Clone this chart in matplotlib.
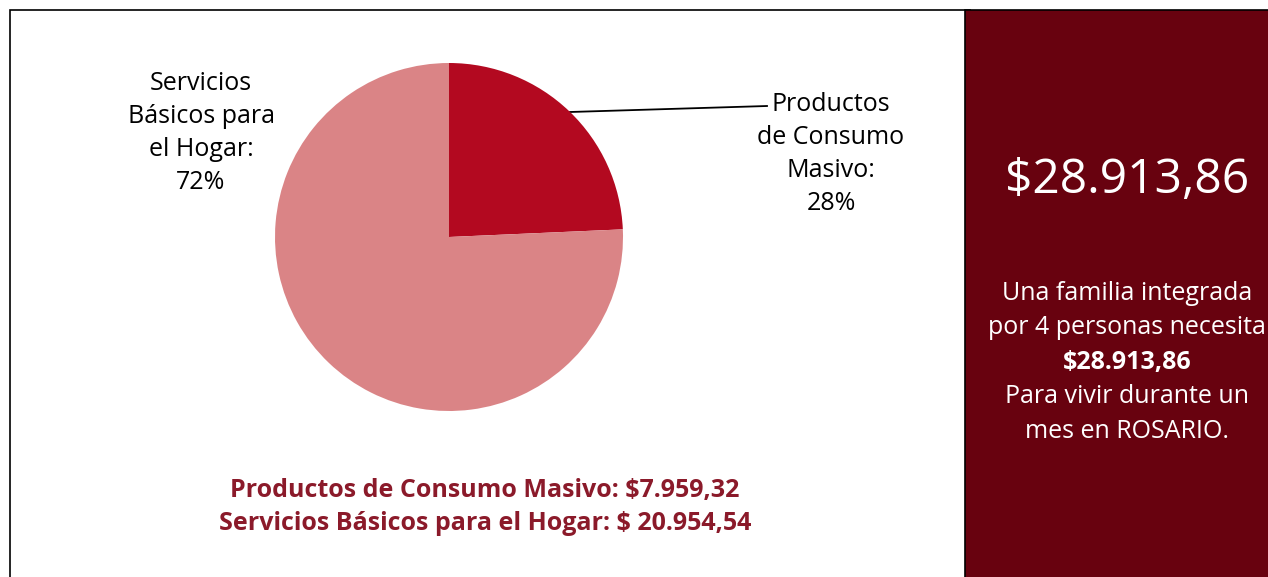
import matplotlib.pyplot as plt
from matplotlib.patches import Rectangle

plt.rcParams['font.family'] = ['Open Sans', 'DejaVu Sans']

# data
categorias = ['Productos de Consumo Masivo', 'Servicios Básicos para el Hogar']
porcion_dibujada = [24.3, 75.7]   # share as drawn in the pie
etiquetas = ['Productos\nde Consumo\nMasivo:\n28%', 'Servicios\nBásicos para\nel Hogar:\n72%']
montos = ['$7.959,32', '$ 20.954,54']
total = '$28.913,86'
colores = ['#B30920', '#DA8486']

W, H = 1268, 577
fig = plt.figure(figsize=(W / 100, H / 100), dpi=100)

# background axis in pixel coords
bg = fig.add_axes([0, 0, 1, 1])
bg.set_xlim(0, W)
bg.set_ylim(H, 0)
bg.axis('off')

bg.add_patch(Rectangle((10, 10), 960, 600, facecolor='white', edgecolor='black', lw=1.2))
bg.add_patch(Rectangle((965, 10), 320, 600, facecolor='#68020F', edgecolor='black', lw=1.2))

# pie
cx, cy, r = 449, 237, 174
ax = fig.add_axes([(cx - r) / W, 1 - (cy + r) / H, 2 * r / W, 2 * r / H])
ax.pie(porcion_dibujada, colors=colores, startangle=90, counterclock=False,
       wedgeprops=dict(linewidth=0))
ax.set_aspect('auto')
ax.set_xlim(-1, 1)
ax.set_ylim(-1, 1)

# labels
bg.text(831, 154, etiquetas[0], ha='center', va='center', fontsize=18,
        linespacing=1.42, color='black')
bg.text(201, 133, etiquetas[1], ha='center', va='center', fontsize=18,
        linespacing=1.42, color='black')
bg.plot([570, 767], [112, 106], color='black', lw=1.3)

# amounts
bg.text(485, 491, f'{categorias[0]}: {montos[0]}', ha='center', va='center',
        fontsize=18, fontweight='bold', color='#8B1A2A')
bg.text(485, 524, f'{categorias[1]}: {montos[1]}', ha='center', va='center',
        fontsize=18, fontweight='bold', color='#8B1A2A')

# right panel
bg.text(1127, 180, total, ha='center', va='center', fontsize=34.5, color='white')
lineas = ['Una familia integrada', 'por 4 personas necesita', total,
          'Para vivir durante un', 'mes en ROSARIO.']
for i, t in enumerate(lineas):
    bg.text(1127, 293 + i * 34.5, t, ha='center', va='center', fontsize=18,
            color='white', fontweight='bold' if t == total else 'normal')

fig.savefig('out.png', dpi=100)
